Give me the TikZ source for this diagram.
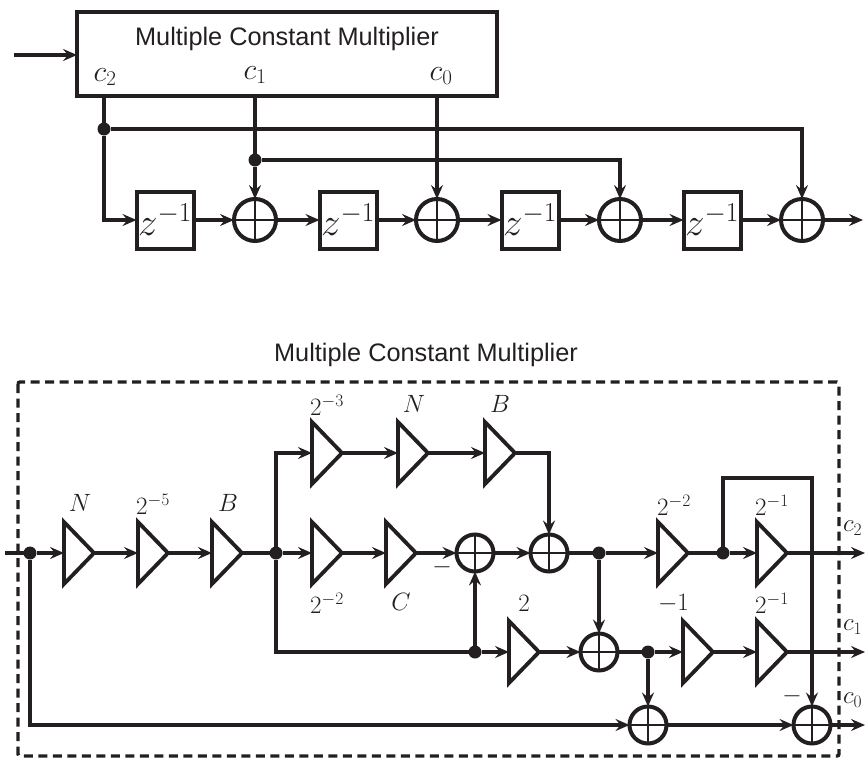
\documentclass[tikz,border=0pt]{standalone}
\usepackage{fontspec}
\usepackage{fix-cm}
\setmainfont{Liberation Sans}
\usetikzlibrary{arrows.meta,shapes.geometric,positioning}
\definecolor{ink}{HTML}{231F20}
\tikzset{
  x=1pt,y=-1pt,
  every node/.style={inner sep=0pt,outer sep=0pt,text=ink},
  conn/.style={draw=ink,line width=3.2pt,-{Stealth[length=14pt,width=12pt,inset=5pt]}},
  conntop/.style={conn,line width=4pt},
  wire/.style={draw=ink,line width=3.2pt},
  wiretop/.style={wire,line width=4pt},
  tri/.style={draw=ink,line width=3.8pt,fill=white,isosceles triangle,isosceles triangle stretches,
    minimum width=62pt,minimum height=30pt,anchor=west,shape border rotate=0},
  adder/.style={draw=ink,line width=4pt,circle,fill=white,minimum size=#1,
    path picture={\draw[ink,line width=1.6pt] (path picture bounding box.north)--(path picture bounding box.south)
      (path picture bounding box.west)--(path picture bounding box.east);}},
  dotj/.style={circle,fill=ink,minimum size=13pt},
  zbox/.style={draw=ink,line width=4pt,minimum width=57pt,minimum height=57pt,fill=white,font=\fontsize{39}{42}\selectfont},
  lab/.style={font=\fontsize{25}{28}\selectfont},
  clab/.style={font=\fontsize{30}{32}\selectfont},
  rlab/.style={font=\fontsize{25}{28}\selectfont,anchor=west},
  title/.style={font=\fontsize{25.3}{28}\selectfont},
}
\begin{document}
\begin{tikzpicture}
\useasboundingbox (0,0) rectangle (865,758);
% upper diagram
\node[draw=ink,line width=4pt,minimum width=420pt,minimum height=84pt,anchor=north west] (mcm) at (77,12) {};
\node[title] (t1) at (287,38.5) {Multiple Constant Multiplier};
\node[clab] (lc2) at (105,77) {$c_2$};
\node[clab] (lc1) at (255,75) {$c_1$};
\node[clab] (lc0) at (441,76) {$c_0$};
\coordinate (in1) at (14,55);
\coordinate (in1e) at (77,55);
\draw[conntop] (in1) -- (in1e);
\foreach \n/\x in {z1/165,z2/348,z3/530,z4/712}{\node[zbox] (\n) at (\x,220) {$z^{-1}$};}
\foreach \n/\x in {a1/255,a2/437,a3/620,a4/802}{\node[adder=42pt] (\n) at (\x,220) {};}
\coordinate (c2top) at (104,97);
\coordinate (c1top) at (255,97);
\coordinate (c0top) at (437,97);
\node[dotj] (j2) at (104,129) {};
\node[dotj] (j1) at (255,160) {};
\coordinate (out1) at (863,220);
\draw[wiretop] (c2top) -- (j2);
\draw[conntop] (j2) |- (z1.west);
\draw[conntop] (j2) -| (a4.north);
\draw[wiretop] (c1top) -- (j1);
\draw[conntop] (j1) -- (a1.north);
\draw[conntop] (j1) -| (a3.north);
\draw[conntop] (c0top) -- (a2.north);
\draw[conntop] (z1) -- (a1);
\draw[conntop] (a1) -- (z2);
\draw[conntop] (z2) -- (a2);
\draw[conntop] (a2) -- (z3);
\draw[conntop] (z3) -- (a3);
\draw[conntop] (a3) -- (z4);
\draw[conntop] (z4) -- (a4);
\draw[conntop] (a4) -- (out1);
% lower diagram
\node[title] (t2) at (426,354.5) {Multiple Constant Multiplier};
\draw[draw=ink,line width=3.4pt,dash pattern=on 9pt off 5.5pt,rounded corners=2pt] (18,382) rectangle (839,756);
\foreach \n/\x/\y in {tN/64/553,tE/138/553,tB/212/553,
  uA/312/453,uN/398/453,uB/485/453,
  lA/312/553,lC/386/553,
  mA/658/553,mB/757/553,
  nA/509/652,nB/683/652,nC/757/652}{\node[tri] (\n) at (\x,\y) {};}
\foreach \n/\x/\y in {s1/475/553,s2/549/553,s3/599/652,s4/648/725,s5/812/725}{\node[adder=37pt] (\n) at (\x,\y) {};}
\foreach \n/\x/\y in {d0/30/553,d1/276/553,d2/599/553,d3/723/553,d4/475/652,d5/648/652}{\node[dotj] (\n) at (\x,\y) {};}
\coordinate (inb) at (5,553);
\coordinate (o2) at (865,553);
\coordinate (o1) at (865,652);
\coordinate (o0) at (865,725);
\draw[wire] (inb) -- (d0);
\draw[conn] (d0) -- (tN.west);
\draw[conn] (tN.east) -- (tE.west);
\draw[conn] (tE.east) -- (tB.west);
\draw[wire] (tB.east) -- (d1);
\draw[conn] (d1) -- (lA.west);
\draw[conn] (d1) |- (uA.west);
\draw[conn] (uA.east) -- (uN.west);
\draw[conn] (uN.east) -- (uB.west);
\draw[conn] (uB.east) -| (s2.north);
\draw[conn] (lA.east) -- (lC.west);
\draw[conn] (lC.east) -- (s1.west);
\draw[conn] (s1) -- (s2);
\draw[wire] (s2) -- (d2);
\draw[conn] (d2) -- (mA.west);
\draw[wire] (mA.east) -- (d3);
\draw[conn] (d3) -- (mB.west);
\draw[conn] (mB.east) -- (o2);
\draw[wire] (d1) |- (d4);
\draw[conn] (d4) -- (s1.south);
\draw[conn] (d4) -- (nA.west);
\draw[conn] (nA.east) -- (s3.west);
\draw[conn] (d2) -- (s3.north);
\draw[wire] (s3) -- (d5);
\draw[conn] (d5) -- (nB.west);
\draw[conn] (nB.east) -- (nC.west);
\draw[conn] (nC.east) -- (o1);
\draw[conn] (d5) -- (s4.north);
\draw[conn] (d0) |- (s4.west);
\draw[conn] (s4) -- (s5);
\draw[conn] (s5) -- (o0);
\coordinate (fb1) at (723,478);
\coordinate (fb2) at (812,478);
\draw[conn] (d3) -- (fb1) -- (fb2) -- (s5.north);
% labels
\foreach \n/\x/\y/\t in {lN/80/503/N,lE/153/504/2^{-5},lB/228/503/B,
  luA/327/405/2^{-3},luN/414/404/N,luB/500/404/B,
  llA/327/603/2^{-2},llC/401/602/C,
  lmA/674/505/2^{-2},lmB/772/505/2^{-1},
  lnA/524/603/2,lnB/673.5/603/-1,lnC/772/603/2^{-1}}{\node[lab] (\n) at (\x,\y) {$\t$};}
\node[lab] (m1) at (442,567) {$-$};
\node[lab] (m2) at (792,696) {$-$};
\node[rlab] (rc2) at (843,528) {$c_2$};
\node[rlab] (rc1) at (843,627) {$c_1$};
\node[rlab] (rc0) at (843,700) {$c_0$};
\end{tikzpicture}
\end{document}
